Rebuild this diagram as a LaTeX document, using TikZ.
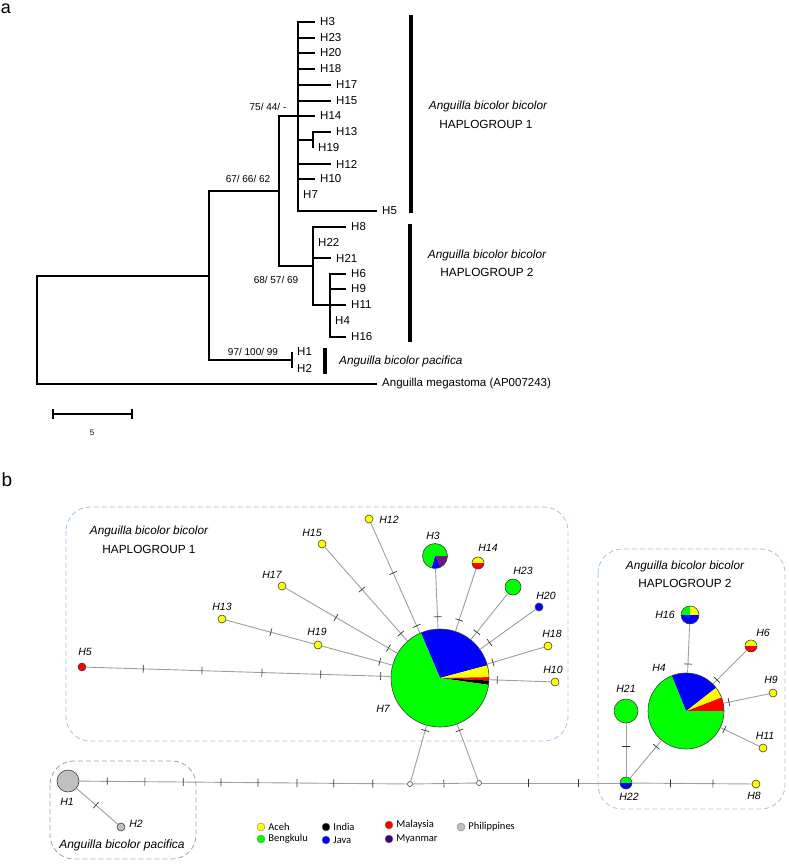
\documentclass[tikz,border=0pt]{standalone}
\usepackage{fontspec}
\setmainfont{Liberation Sans}
\newfontfamily\keyfont{Carlito}
\usetikzlibrary{positioning}
\definecolor{cgreen}{RGB}{0,255,0}
\definecolor{cblue}{RGB}{0,0,255}
\definecolor{cyellow}{RGB}{255,255,0}
\definecolor{cred}{RGB}{255,0,0}
\definecolor{cpurple}{RGB}{112,20,128}
\definecolor{cmyan}{RGB}{64,0,120}
\definecolor{cgrey}{RGB}{192,192,192}
\definecolor{hgblue}{RGB}{157,195,230}
\definecolor{pacgrey}{RGB}{168,150,196}
\newcommand\mut[3]{\foreach \p in {#3} {\path (#1) -- (#2) node[pos=\p, sloped, tk] {};}}
\begin{document}
\begin{tikzpicture}[x=1pt, y=-1pt,
    br/.style={line width=1.3pt},
    gbar/.style={line width=3.6pt},
    leaf/.style={anchor=west, inner xsep=5pt, inner ysep=1pt, font=\fontsize{11.5}{13}\selectfont},
    supp/.style={inner sep=0pt, font=\fontsize{10}{12}\selectfont},
    grptext/.style={inner sep=0pt, font=\fontsize{11.8}{13}\selectfont},
    hap/.style={circle, draw=black!75, line width=0.6pt, inner sep=0pt, minimum size=8pt},
    pie/.style={path picture={\foreach \a/\b/\c in {#1} {\fill[\c] (path picture bounding box.center) -- ++(-\a:60) arc[start angle=-\a, end angle=-\b, radius=60] -- cycle;}}},
    mv/.style={circle, draw=black!75, fill=white, line width=0.6pt, minimum size=5pt, inner sep=0pt},
    link/.style={draw=black!38, line width=0.9pt},
    tk/.style={rectangle, draw=black!80, line width=0.7pt, inner sep=0pt, minimum height=8pt, minimum width=0pt},
    hl/.style={inner sep=0pt, font=\fontsize{10.5}{12}\selectfont\itshape},
    grp/.style={line width=0.8pt, dash pattern=on 5pt off 3pt, rounded corners=24pt},
    kdot/.style={circle, draw=black!50, line width=0.4pt, minimum size=8pt, inner sep=0pt},
    keytext/.style={inner sep=1pt, font=\keyfont\fontsize{10.5}{12}\selectfont}]
\useasboundingbox (0,0) rectangle (789,864);
\node[inner sep=0pt, font=\fontsize{18}{20}\selectfont] (pa) at (6,9) {a};
\node[inner sep=0pt, font=\fontsize{19}{21}\selectfont] (pb) at (7,480) {b};

\node[leaf] (t3) at (315,22) {H3};
\node[leaf] (t23) at (315,38) {H23};
\node[leaf] (t20) at (315,53) {H20};
\node[leaf] (t18) at (315,69) {H18};
\node[leaf] (t17) at (331,85) {H17};
\node[leaf] (t15) at (331,101) {H15};
\node[leaf] (t14) at (315,116) {H14};
\node[leaf] (t13) at (331,132) {H13};
\node[leaf] (t19) at (313,148) {H19};
\node[leaf] (t12) at (331,164) {H12};
\node[leaf] (t10) at (315,179) {H10};
\node[leaf] (t7) at (298,195) {H7};
\node[leaf] (t5) at (377,211) {H5};
\node[leaf] (t8) at (346,227) {H8};
\node[leaf] (t22) at (313,242) {H22};
\node[leaf] (t21) at (331,258) {H21};
\node[leaf] (t6) at (346,274) {H6};
\node[leaf] (t9) at (346,289) {H9};
\node[leaf] (t11) at (346,305) {H11};
\node[leaf] (t4) at (330,321) {H4};
\node[leaf] (t16) at (346,337) {H16};
\node[leaf] (t1) at (292,352) {H1};
\node[leaf] (t2) at (292,368) {H2};
\node[leaf] (tmeg) at (377,384) {Anguilla megastoma (AP007243)};
\coordinate (nR) at (37,330);
\coordinate (nA) at (209,276);
\coordinate (nB) at (279,191);
\coordinate (nC) at (298,116);
\coordinate (nD) at (313,266);
\coordinate (nE) at (313,140);
\coordinate (nF) at (330,305);
\coordinate (nP) at (292,360);
\draw[br] (nR) |- (nA);
\draw[br] (nR) |- (tmeg.west);
\draw[br] (nA) |- (nB);
\draw[br] (nA) |- (nP);
\draw[br] (nB) |- (nC);
\draw[br] (nB) |- (nD);
\draw[br] (nC) |- (nE);
\foreach \t in {3,23,20,18,17,15,14,12,10,7,5} \draw[br] (nC) |- (t\t.west);
\foreach \t in {13,19} \draw[br] (nE) |- (t\t.west);
\foreach \t in {8,22,21} \draw[br] (nD) |- (t\t.west);
\draw[br] (nD) |- (nF);
\foreach \t in {6,9,11,4,16} \draw[br] (nF) |- (t\t.west);
\foreach \t in {1,2} \draw[br] (nP) |- (t\t.west);
\node[supp] (s1) at (268,107) {75/ 44/ -};
\node[supp] (s2) at (248,179) {67/ 66/ 62};
\node[supp] (s3) at (276,280) {68/ 57/ 69};
\node[supp] (s4) at (253,352) {97/ 100/ 99};
\draw[gbar] (411,15) -- (411,213);
\draw[gbar] (410,224) -- (410,342);
\draw[gbar] (325,348) -- (325,374);
\node[grptext, font=\fontsize{11.8}{13}\selectfont\itshape] (g1a) at (488,106) {Anguilla bicolor bicolor};
\node[grptext] (g1b) at (486,124) {HAPLOGROUP 1};
\node[grptext, font=\fontsize{11.8}{13}\selectfont\itshape] (g2a) at (487,255) {Anguilla bicolor bicolor};
\node[grptext] (g2b) at (487,272) {HAPLOGROUP 2};
\node[grptext, anchor=west, font=\fontsize{11.8}{13}\selectfont\itshape] (gp) at (339,361) {Anguilla bicolor pacifica};
\draw[br] (53,414) -- (132,414);
\draw[br] (53,409) -- (53,419);
\draw[br] (132,409) -- (132,419);
\node[inner sep=0pt, font=\fontsize{8}{9}\selectfont] (sc) at (92,433) {5};

\draw[grp, draw=hgblue] (66,507) rectangle (568,741);
\draw[grp, draw=hgblue] (598,549) rectangle (785,809);
\draw[grp, draw=pacgrey] (50,761) rectangle (196,859);
\node[grptext, font=\fontsize{11.8}{13}\selectfont\itshape] (b1a) at (149,531) {Anguilla bicolor bicolor};
\node[grptext] (b1b) at (149,549) {HAPLOGROUP 1};
\node[grptext, font=\fontsize{11.8}{13}\selectfont\itshape] (b2a) at (685,566) {Anguilla bicolor bicolor};
\node[grptext] (b2b) at (685,583) {HAPLOGROUP 2};
\node[grptext, font=\fontsize{12}{13}\selectfont\itshape] (bp) at (122,845) {Anguilla bicolor pacifica};

\node[hap, minimum size=98pt, pie={15/113/cblue, 1/15/cyellow, 357/361/cred, 352/357/black, 113/352/cgreen}] (h7) at (440,678) {};
\node[hap, minimum size=25pt, pie={297/360/cpurple, 254/297/cblue, 0/254/cgreen}] (h3) at (435,556) {};
\node[hap, minimum size=12pt, pie={0/180/cyellow, 180/360/cred}] (h14) at (478,563) {};
\node[hap, minimum size=16pt, fill=cgreen] (h23) at (513,587) {};
\node[hap, fill=cblue] (h20) at (539,607) {};
\node[hap, fill=cyellow] (h18) at (548,646) {};
\node[hap, fill=cyellow] (h10) at (555,682) {};
\node[hap, fill=cyellow] (h12) at (369,519) {};
\node[hap, fill=cyellow] (h15) at (322,544) {};
\node[hap, fill=cyellow] (h17) at (282,586) {};
\node[hap, fill=cyellow] (h13) at (222,619) {};
\node[hap, fill=cyellow] (h19) at (318,645) {};
\node[hap, fill=cred] (h5) at (82,667) {};
\node[hap, minimum size=76pt, pie={0/21/cred, 21/38/cyellow, 38/112/cblue, 112/360/cgreen}] (h4) at (686,711) {};
\node[hap, minimum size=18pt, pie={0/90/cyellow, 90/180/cgreen, 180/360/cblue}] (h16) at (690,615) {};
\node[hap, minimum size=12pt, pie={0/180/cyellow, 180/360/cred}] (h6) at (751,646) {};
\node[hap, fill=cyellow] (h9) at (773,693) {};
\node[hap, fill=cyellow] (h11) at (763,748) {};
\node[hap, minimum size=24pt, fill=cgreen] (h21) at (626,711) {};
\node[hap, minimum size=12pt, pie={0/180/cgreen, 180/360/cblue}] (h22) at (626,783) {};
\node[hap, fill=cyellow] (h8) at (756,784) {};
\node[hap, minimum size=22pt, fill=cgrey] (h1) at (68,781) {};
\node[hap, fill=cgrey] (h2) at (121,827) {};
\node[mv] (mv1) at (410,784) {};
\node[mv] (mv2) at (479,783) {};

\foreach \a/\b in {h5/h7, h13/h19, h19/h7, h17/h7, h15/h7, h12/h7, h3/h7, h14/h7, h23/h7, h20/h7, h18/h7, h10/h7, h7/mv1, h7/mv2, h1/mv1, mv1/mv2, mv2/h22, h22/h8, h1/h2, h21/h22, h22/h4, h16/h4, h6/h4, h9/h4, h11/h4}
  \draw[link] (\a) -- (\b);
\mut{h5}{h7}{0.187,0.38,0.577,0.77,0.967}
\mut{h13}{h19}{0.51}
\mut{h19}{h7}{0.82}
\mut{h17}{h7}{0.45,0.92}
\mut{h15}{h7}{0.45,0.92}
\mut{h12}{h7}{0.455,0.935}
\mut{h3}{h7}{0.8}
\mut{h14}{h7}{0.82}
\mut{h23}{h7}{0.84}
\mut{h20}{h7}{0.83}
\mut{h18}{h7}{0.9}
\mut{h10}{h7}{0.87}
\mut{h7}{mv1}{0.09}
\mut{h7}{mv2}{0.11}
\mut{h1}{mv1}{0.085,0.2,0.317,0.432,0.545,0.664,0.776,0.895}
\mut{mv1}{mv2}{0.49}
\mut{mv2}{h22}{0.336,0.7}
\mut{h22}{h8}{0.32,0.675}
\mut{h1}{h2}{0.47}
\mut{h21}{h22}{0.44}
\mut{h22}{h4}{0.835}
\mut{h16}{h4}{0.82}
\mut{h6}{h4}{0.88}
\mut{h9}{h4}{0.88}
\mut{h11}{h4}{0.9}

\node[hl] (l5) at (85,652) {H5};
\node[hl] (l13) at (222,607) {H13};
\node[hl] (l19) at (317,632) {H19};
\node[hl] (l17) at (272,575) {H17};
\node[hl] (l15) at (312,533) {H15};
\node[hl] (l12) at (389,520) {H12};
\node[hl] (l3) at (433,536) {H3};
\node[hl] (l14) at (488,548) {H14};
\node[hl] (l23) at (523,571) {H23};
\node[hl] (l20) at (546,596) {H20};
\node[hl] (l18) at (552,634) {H18};
\node[hl] (l10) at (553,670) {H10};
\node[hl] (l7) at (383,709) {H7};
\node[hl] (l16) at (665,615) {H16};
\node[hl] (l6) at (763,633) {H6};
\node[hl] (l9) at (771,680) {H9};
\node[hl] (l11) at (765,736) {H11};
\node[hl] (l4) at (659,668) {H4};
\node[hl] (l21) at (626,689) {H21};
\node[hl] (l22) at (629,797) {H22};
\node[hl] (l8) at (754,796) {H8};
\node[hl] (l1) at (67,802) {H1};
\node[hl] (l2) at (136,824) {H2};

\node[kdot, fill=cyellow] (kAceh) at (261,827) {};
\node[keytext, right=2pt of kAceh] (tAceh) {Aceh};
\node[kdot, fill=cgreen] (kBeng) at (261,839) {};
\node[keytext, right=2pt of kBeng] (tBeng) {Bengkulu};
\node[kdot, fill=black] (kInd) at (326,827) {};
\node[keytext, right=2pt of kInd] (tInd) {India};
\node[kdot, fill=cblue] (kJava) at (326,840) {};
\node[keytext, right=2pt of kJava] (tJava) {Java};
\node[kdot, fill=cred] (kMal) at (389,825) {};
\node[keytext, right=2pt of kMal] (tMal) {Malaysia};
\node[kdot, fill=cmyan] (kMya) at (389,839) {};
\node[keytext, right=2pt of kMya] (tMya) {Myanmar};
\node[kdot, fill=cgrey] (kPhi) at (461,827) {};
\node[keytext, right=2pt of kPhi] (tPhi) {Philippines};
\end{tikzpicture}
\end{document}
